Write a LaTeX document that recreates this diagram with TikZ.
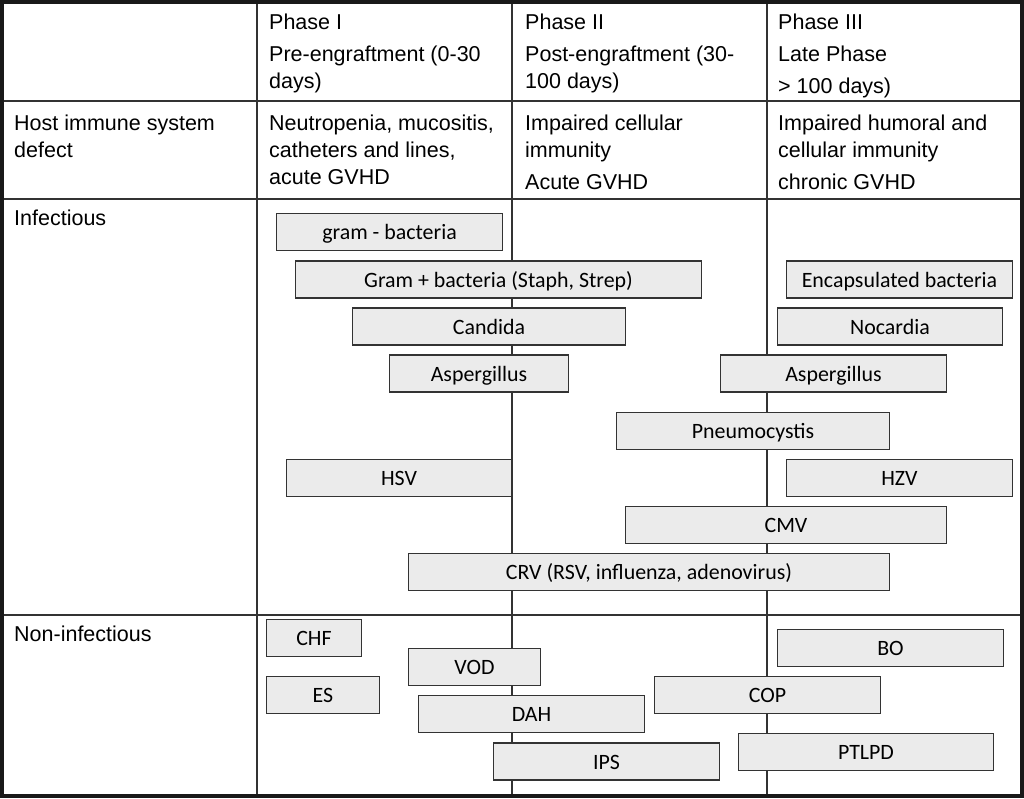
\documentclass[tikz,border=0pt]{standalone}
\usepackage{fontspec}
\setmainfont{Liberation Sans}
\newfontfamily\calib{Carlito}

\tikzset{
  rule/.style={draw=black!80, line width=1.5pt},
  pbox/.style={draw=black!80, fill=black!8, line width=1.3pt, inner sep=0pt,
    minimum height=37pt, text height=15pt, text depth=0pt,
    font=\calib\fontsize{21.9}{26}\selectfont},
  cell/.style={anchor=north west, inner sep=0pt, align=left,
    font=\fontsize{21.5}{27}\selectfont}
}

\begin{document}
\begin{tikzpicture}[x=1pt,y=-1pt]
                \useasboundingbox (0,0) rectangle (1024,798);
                % grid of the table
                \draw[rule] (2,101) -- (1022,101);
                \draw[rule] (2,199) -- (1022,199);
                \draw[rule] (2,615) -- (1022,615);
                \draw[rule] (257,2) -- (257,796);
                \draw[rule] (512,2) -- (512,796);
                \draw[rule] (767,2) -- (767,796);
                \draw[black!90, line width=4pt] (2,2) rectangle (1022,796);
                % header cells
                \node[cell] (ph1) at (269,13.5) {Phase I\\[5pt]Pre-engraftment (0-30\\days)};
                \node[cell] (ph2) at (525,13.5) {Phase II\\[5pt]Post-engraftment (30-\\100 days)};
                \node[cell] (ph3) at (778,13.5) {Phase III\\[5pt]Late Phase\\[5pt]> 100 days)};
                \node[cell] (host) at (14,114.5) {Host immune system\\defect};
                \node[cell] (def1) at (269,114.5) {Neutropenia, mucositis,\\catheters and lines,\\acute GVHD};
                \node[cell] (def2) at (525,114.5) {Impaired cellular\\immunity\\[5pt]Acute GVHD};
                \node[cell] (def3) at (778,114.5) {Impaired humoral and\\cellular immunity\\[5pt]chronic GVHD};
                \node[cell] (infect) at (14,209.5) {Infectious};
                \node[cell] (noninfect) at (14,625.5) {Non-infectious};
                % infectious
                \node[pbox, minimum width=226pt] (gramneg) at (389.5,232) {gram - bacteria};
                \node[pbox, minimum width=406pt] (grampos) at (498.5,279.5) {Gram + bacteria (Staph, Strep)};
                \node[pbox, minimum width=273pt] (candida) at (489,326.5) {Candida};
                \node[pbox, minimum width=179pt] (asperga) at (479,373.5) {Aspergillus};
                \node[pbox, minimum width=226pt] (encaps) at (899.5,279.5) {Encapsulated bacteria};
                \node[pbox, minimum width=225pt] (nocardia) at (890,326.5) {Nocardia};
                \node[pbox, minimum width=226pt] (aspergb) at (833.5,373.5) {Aspergillus};
                \node[pbox, minimum width=273pt] (pneumo) at (753,431) {Pneumocystis};
                \node[pbox, minimum width=225pt] (hsv) at (399,478) {HSV};
                \node[pbox, minimum width=226pt] (hzv) at (899.5,478) {HZV};
                \node[pbox, minimum width=321pt] (cmv) at (786,525) {CMV};
                \node[pbox, minimum width=481pt] (crv) at (649,572) {CRV (RSV, influenza, adenovirus)};
                % non-infectious
                \node[pbox, minimum width=95pt] (chf) at (314,638) {CHF};
                \node[pbox, minimum width=132pt] (vod) at (474.5,667) {VOD};
                \node[pbox, minimum width=113pt] (es) at (323,695) {ES};
                \node[pbox, minimum width=226pt] (dah) at (531.5,714) {DAH};
                \node[pbox, minimum width=226pt] (ips) at (606.5,761.5) {IPS};
                \node[pbox, minimum width=226pt] (bo) at (890.5,648) {BO};
                \node[pbox, minimum width=226pt] (cop) at (767.5,695) {COP};
                \node[pbox, minimum width=255pt] (ptlpd) at (866,752) {PTLPD};
\end{tikzpicture}
\end{document}
